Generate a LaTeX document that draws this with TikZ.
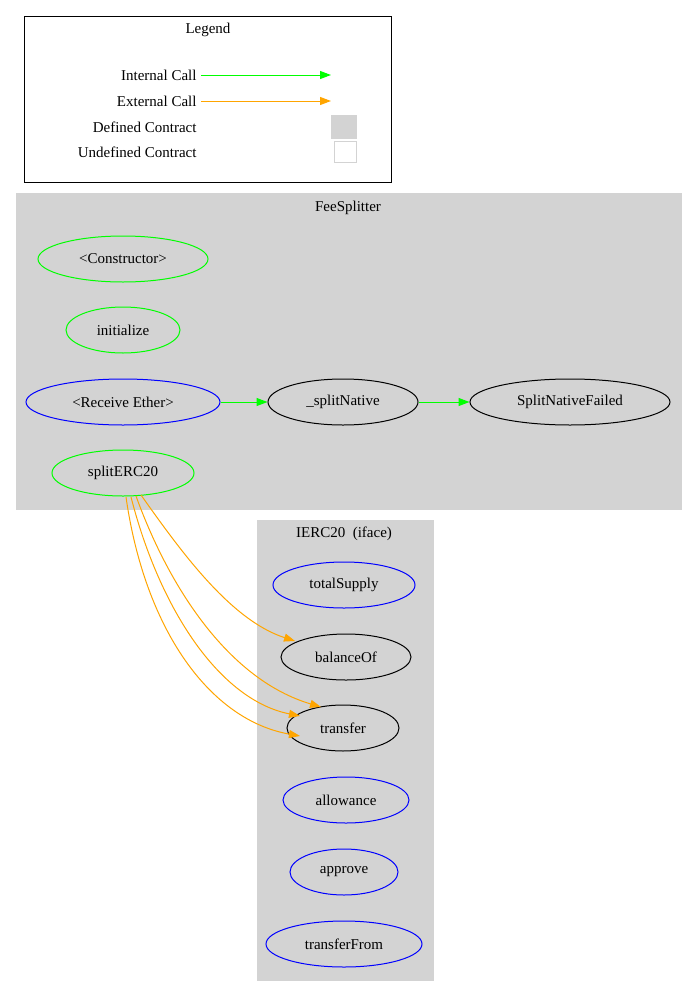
\documentclass[tikz,border=0pt]{standalone}
\usepackage{fontspec}
\setmainfont{Liberation Serif}
\usetikzlibrary{arrows.meta,shapes.geometric}
\definecolor{lg}{HTML}{D3D3D3}
\definecolor{gr}{HTML}{00FF00}
\definecolor{org}{HTML}{FFA500}
\begin{document}
\begin{tikzpicture}[x=1pt,y=-1pt,font=\fontsize{15}{17}\selectfont,line width=1pt,
 fn/.style={ellipse,draw,minimum height=46pt,inner sep=0pt},
 int/.style={draw=gr,-{Triangle[length=11pt,width=8pt]}},
 ext/.style={draw=org,-{Triangle[length=11pt,width=8pt]},fill=none},
 lab/.style={anchor=east,inner sep=0pt}]
\useasboundingbox[fill=white] (0,0) rectangle (697,996);
% legend
\node[draw,minimum width=367pt,minimum height=166pt,anchor=north west,inner sep=0pt] (leg) at (24,16) {};
\node (legt) at (208,30) {Legend};
\node[lab] (l1) at (197,75) {Internal Call};
\node[lab] (l2) at (197,101) {External Call};
\node[lab] (l3) at (197,127) {Defined Contract};
\node[lab] (l4) at (197,152) {Undefined Contract};
\coordinate (a1) at (201,75); \coordinate (b1) at (331,75);
\coordinate (a2) at (201,101); \coordinate (b2) at (331,101);
\draw[int] (a1) -- (b1);
\draw[ext] (a2) -- (b2);
\node[fill=lg,minimum width=26pt,minimum height=24pt,inner sep=0pt] (sq1) at (344,127) {};
\node[draw=lg,minimum width=22pt,minimum height=21pt,inner sep=0pt] (sq2) at (345,152) {};
% FeeSplitter
\node[fill=lg,minimum width=666pt,minimum height=317pt,anchor=north west,inner sep=0pt] (fs) at (15,192) {};
\node (fst) at (348,208) {FeeSplitter};
\node[fn,draw=gr,minimum width=170pt] (ctor) at (123,259) {<Constructor>};
\node[fn,draw=gr,minimum width=114pt] (init) at (123,330) {initialize};
\node[fn,draw=blue,minimum width=194pt] (recv) at (123,402) {<Receive Ether>};
\node[fn,minimum width=150pt] (sn) at (343,402) {\_splitNative};
\node[fn,minimum width=200pt] (snf) at (570,402) {SplitNativeFailed};
\node[fn,draw=gr,minimum width=142pt] (se) at (123,473) {splitERC20};
% IERC20
\node[fill=lg,minimum width=177pt,minimum height=461pt,anchor=north west,inner sep=0pt] (ie) at (256,519) {};
\node (iet) at (344,534) {IERC20\ \ (iface)};
\node[fn,draw=blue,minimum width=142pt] (ts) at (344,585) {totalSupply};
\node[fn,minimum width=130pt] (bo) at (346,657) {balanceOf};
\node[fn,minimum width=112pt] (tr) at (343,728) {transfer};
\node[fn,draw=blue,minimum width=126pt] (al) at (346,800) {allowance};
\node[fn,draw=blue,minimum width=108pt] (ap) at (344,872) {approve};
\node[fn,draw=blue,minimum width=156pt] (tf) at (344,944) {transferFrom};
% edges
\draw[int] (recv) -- (sn);
\draw[int] (sn) -- (snf);
\coordinate (s1) at (141,495); \coordinate (t1) at (295,641);
\coordinate (s2) at (136,496); \coordinate (t2) at (321,707);
\coordinate (s3) at (131,497); \coordinate (t3) at (300,716);
\coordinate (s4) at (126,497); \coordinate (t4) at (300,736);
\draw[ext] (s1) .. controls (180,550) and (230,620) .. (t1);
\draw[ext] (s2) .. controls (170,590) and (230,680) .. (t2);
\draw[ext] (s3) .. controls (160,610) and (220,700) .. (t3);
\draw[ext] (s4) .. controls (145,630) and (210,720) .. (t4);
\end{tikzpicture}
\end{document}
